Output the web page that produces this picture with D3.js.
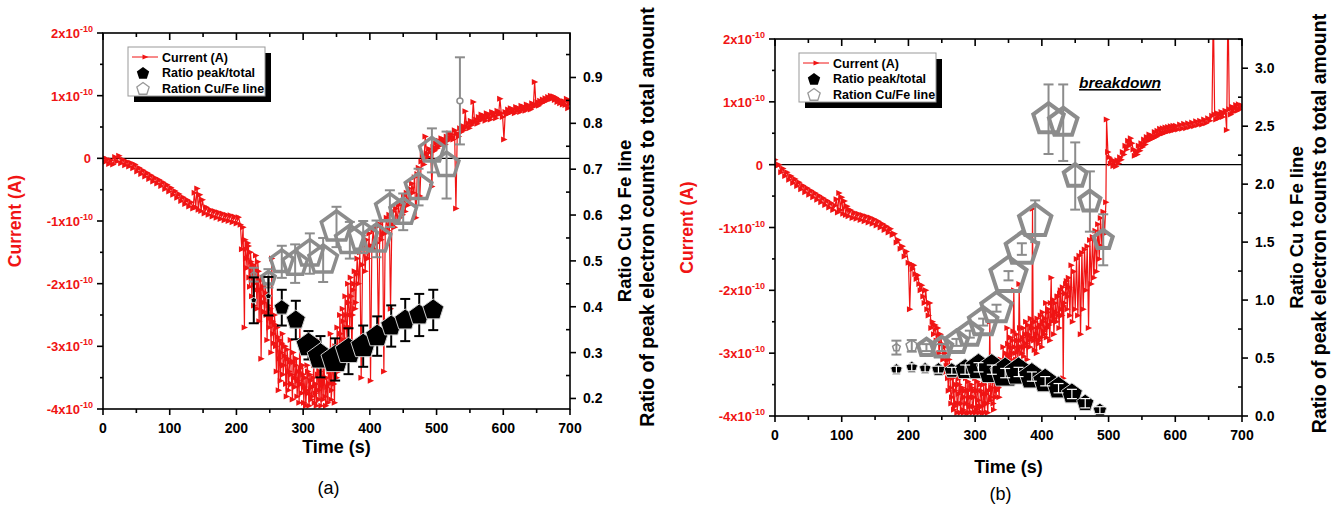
<!DOCTYPE html>
<html>
<head>
<meta charset="utf-8">
<script src="https://d3js.org/d3.v7.min.js"></script>
<style>
  body { margin: 0; background: #fff; }
  svg { display: block; }
  text { font-family: 'Liberation Sans', Arial, sans-serif; }
</style>
</head>
<body>
<svg id="chart" width="1343" height="511"></svg>
<script>
// ---- data (current in units of 1e-10 A, time in s) ----
const currentA = [
  [0,0.02],[3,-0.06],[6,-0.01],[9,-0.09],[12,-0.03],[15,-0.10],[18,0.02],[21,-0.05],[24,0.04],[27,-0.08],
  [30,-0.02],[33,-0.11],[36,-0.05],[39,-0.13],[42,-0.07],[45,-0.16],[48,-0.10],[51,-0.21],[54,-0.15],[57,-0.25],
  [60,-0.19],[63,-0.29],[66,-0.23],[69,-0.33],[72,-0.27],[75,-0.37],[78,-0.31],[81,-0.40],[84,-0.34],[87,-0.44],
  [90,-0.38],[93,-0.49],[96,-0.42],[99,-0.53],[102,-0.47],[105,-0.58],[108,-0.52],[111,-0.63],[114,-0.57],[117,-0.68],
  [120,-0.62],[123,-0.73],[126,-0.66],[129,-0.77],[132,-0.70],[135,-0.80],[137,-0.55],[139,-0.78],[141,-0.48],[143,-0.82],
  [145,-0.58],[147,-0.84],[149,-0.66],[152,-0.88],[155,-0.78],[158,-0.90],[161,-0.82],[164,-0.93],[167,-0.84],[170,-0.95],
  [173,-0.86],[176,-0.97],[179,-0.88],[182,-0.99],[185,-0.90],[188,-1.00],[191,-0.91],[194,-1.02],[197,-0.93],[200,-1.04],
  [203,-0.94],[206,-1.06],
  [208,-1.45],[210,-1.10],[212,-2.70],[213,-1.30],[215,-1.60],[217,-1.35],[219,-1.90],[221,-1.50],[223,-2.20],[225,-1.70],
  [227,-2.00],[229,-1.55],[231,-2.40],[233,-1.80],[235,-2.10],[237,-3.20],[239,-1.90],[241,-2.30],[243,-2.00],[245,-2.50],
  [247,-2.20],[249,-2.70],[251,-2.40],[253,-1.60],[255,-2.80],[257,-2.50],[259,-3.00],[261,-2.70],[263,-3.70],[265,-2.90],
  [267,-3.10],[269,-2.80],[271,-3.30],[273,-3.00],[275,-3.80],[277,-3.20],[279,-3.40],[281,-2.90],[283,-3.60],[285,-3.10],
  [287,-3.50],[289,-3.30],[291,-3.80],[293,-3.40],[295,-2.60],[297,-3.60],[299,-3.30],[301,-3.90],[303,-3.50],[305,-3.70],
  [307,-3.40],[309,-3.95],[311,-3.55],[313,-3.80],[315,-3.50],[317,-3.90],[319,-3.60],[321,-2.90],[323,-3.70],[325,-3.40],
  [327,-3.95],[329,-3.60],[331,-3.20],[333,-3.80],[335,-3.50],[337,-3.90],[339,-3.40],[341,-2.80],[343,-3.70],[345,-3.30],
  [347,-3.90],[349,-3.20],[351,-2.70],[353,-3.40],[355,-2.50],[357,-3.10],[359,-2.40],[361,-2.90],[363,-2.20],[365,-2.70],
  [367,-2.00],[369,-2.50],[371,-1.90],[373,-3.20],[375,-2.10],[377,-1.80],[379,-2.30],[381,-1.60],[383,-2.00],[385,-1.50],
  [387,-3.50],[389,-1.70],[391,-1.40],[393,-1.80],[395,-1.30],[397,-1.60],[399,-1.20],[401,-3.55],[403,-1.40],[405,-1.15],
  [407,-1.45],[409,-1.10],[411,-1.35],[413,-2.90],[415,-1.05],[417,-1.30],[419,-1.00],[421,-3.40],[423,-1.20],[425,-0.95],
  [427,-1.15],[429,-0.90],[431,-2.40],[433,-1.05],[435,-0.85],[437,-1.10],[439,-0.80],[441,-1.00],[443,-0.75],[445,-0.95],
  [447,-0.70],[449,-0.90],[451,-0.60],[453,-0.85],[455,-0.55],[457,-0.75],[459,-0.48],[461,-0.65],[463,-0.40],[465,-0.55],
  [467,-0.30],[469,-0.95],[471,-0.25],[473,-0.15],[475,-0.60],[477,-0.05],[479,0.05],[481,-0.10],[483,0.35],[485,0.08],
  [487,0.02],[489,0.15],[491,0.10],[493,-0.45],[495,0.18],[497,0.12],[499,0.24],[501,0.16],[503,0.28],[505,0.20],
  [507,0.32],[509,0.25],[511,0.30],[513,0.22],[515,0.35],[517,0.28],[519,0.40],[521,0.32],[523,0.38],[525,0.30],
  [527,0.45],[529,-0.80],[531,0.40],[533,0.35],[535,0.48],[537,0.42],[539,0.52],[541,0.45],[543,0.75],[545,0.50],
  [547,0.56],[549,0.48],[551,0.60],[553,0.53],[555,0.90],[557,0.58],[559,0.62],[561,0.55],[563,0.66],[565,0.60],
  [567,0.70],[569,0.63],[571,0.68],[573,0.60],[575,0.72],[577,0.65],[579,0.70],[581,0.62],[583,0.74],[585,0.68],
  [587,0.72],[589,0.64],[591,0.76],[593,0.70],[595,0.95],[597,0.72],[599,0.66],[601,0.30],[603,0.74],[605,0.70],
  [607,0.78],[609,0.72],[611,0.80],[613,0.74],[615,0.78],[617,0.72],[619,0.82],[621,0.76],[623,0.80],[625,0.74],
  [627,0.84],[629,0.78],[631,0.82],[633,0.76],[635,0.86],[637,0.80],[639,0.84],[641,0.78],[643,0.88],[645,0.82],
  [647,1.22],[649,0.85],[651,0.90],[653,0.84],[655,0.92],[657,0.88],[659,0.94],[661,0.90],[663,0.96],[665,0.92],
  [667,0.98],[669,0.94],[671,1.00],[673,0.95],[675,0.99],[677,0.93],[679,0.97],[681,0.90],[683,0.94],[685,0.88],
  [687,0.92],[689,0.86],[691,0.91],[693,0.85],[695,0.95],[697,0.80],[699,0.92],[700,0.88]
];
// extra readings in the dense noisy part of (a)
const currentAFine = [
  [214,-1.45],[216,-1.75],[218,-1.40],[220,-2.05],[222,-1.65],[224,-1.85],[226,-2.35],[228,-1.75],[230,-2.10],[232,-1.65],
  [234,-2.60],[236,-1.95],[238,-2.20],[240,-2.05],[242,-2.45],[244,-2.15],[246,-2.90],[248,-2.35],[250,-2.55],[252,-3.10],
  [254,-2.60],[256,-2.95],[258,-2.65],[260,-3.40],[262,-2.85],[264,-3.20],[266,-3.55],[268,-2.95],[270,-3.45],[272,-3.15],
  [274,-3.60],[276,-3.05],[278,-3.70],[280,-3.25],[282,-3.45],[284,-3.85],[286,-3.25],[288,-3.65],[290,-3.20],[292,-3.55],
  [294,-3.90],[296,-3.35],[298,-3.75],[300,-3.45],[302,-3.65],[304,-3.95],[306,-3.30],[308,-3.75],[310,-3.45],[312,-3.85],
  [314,-3.65],[316,-3.30],[318,-3.75],[320,-3.95],[322,-3.45],[324,-3.85],[326,-3.55],[328,-3.30],[330,-3.85],[332,-3.50],
  [334,-3.95],[336,-3.65],[338,-3.25],[340,-3.60],[342,-3.85],[344,-3.20],[346,-3.60],[348,-3.00],[350,-3.50],[352,-3.00],
  [354,-3.30],[356,-2.80],[358,-3.20],[360,-2.60],[362,-3.05],[364,-2.50],[366,-2.90],[368,-2.30],[370,-2.70],[372,-2.20],
  [374,-2.50],[376,-2.00],[378,-2.40],[380,-1.85]
];

const currentB = [
  [0,0.08],[3,-0.02],[6,0.00],[9,-0.12],[12,-0.06],[15,-0.18],[18,-0.12],[21,-0.24],[24,-0.18],[27,-0.29],
  [30,-0.23],[33,-0.34],[36,-0.28],[39,-0.39],[42,-0.33],[45,-0.44],[48,-0.37],[51,-0.48],[54,-0.41],[57,-0.52],
  [60,-0.45],[63,-0.56],[66,-0.49],[69,-0.60],[72,-0.53],[75,-0.64],[78,-0.57],[81,-0.68],[84,-0.61],[87,-0.72],
  [90,-0.65],[92,-0.55],[94,-0.76],[96,-0.45],[98,-0.72],[100,-0.52],[102,-0.78],[104,-0.58],[106,-0.80],[108,-0.66],
  [110,-0.82],[113,-0.72],[116,-0.85],[119,-0.76],[122,-0.86],[125,-0.78],[128,-0.88],[131,-0.80],[134,-0.90],[137,-0.82],
  [140,-0.92],[143,-0.84],[146,-0.94],[149,-0.87],[152,-0.97],[155,-0.90],[158,-1.00],[161,-0.94],[164,-1.04],[167,-0.98],
  [170,-1.08],[173,-1.02],[176,-1.12],[179,-1.10],[182,-1.24],[185,-1.20],[188,-1.34],[191,-1.30],[194,-1.46],[197,-1.38],
  [200,-1.56],[202,-2.30],[204,-1.58],[206,-1.66],[208,-1.60],[210,-1.74],[212,-1.82],[214,-1.76],[216,-1.90],[218,-2.00],
  [220,-1.92],[222,-2.10],[224,-2.20],[226,-2.00],[228,-2.30],[230,-2.40],[232,-2.20],[234,-2.60],[236,-2.50],[238,-2.70],
  [240,-2.55],[242,-2.80],[244,-2.60],[246,-3.00],[248,-2.70],[250,-2.85],[252,-3.10],[254,-2.90],[256,-3.30],[258,-3.10],
  [260,-3.60],[262,-3.20],[264,-3.80],[266,-3.40],[268,-3.90],[270,-3.60],[272,-3.30],[274,-3.80],[276,-3.50],[278,-3.95],
  [280,-3.60],[282,-3.90],[284,-3.70],[286,-3.40],[288,-3.95],[290,-3.60],[292,-3.85],[294,-3.50],[296,-3.95],[298,-3.70],
  [300,-3.40],[302,-3.90],[304,-3.60],[306,-3.95],[308,-3.50],[310,-3.85],[312,-3.65],[314,-3.95],[316,-3.40],[318,-3.80],
  [320,-3.60],[322,-2.50],[324,-3.70],[326,-3.40],[328,-3.90],[330,-3.30],[332,-3.60],[334,-3.20],[336,-3.70],[338,-3.10],
  [340,-3.40],[342,-2.90],[344,-3.30],[346,-3.00],[348,-2.60],[350,-3.20],[352,-2.90],[354,-3.10],[356,-2.80],[358,-2.00],
  [360,-3.00],[362,-2.70],[364,-3.10],[366,-1.90],[368,-2.80],[370,-3.00],[372,-2.60],[374,-2.90],[376,-2.50],[378,-3.10],
  [380,-2.70],[382,-2.90],[384,-2.60],[386,-0.70],[388,-2.80],[390,-2.50],[392,-3.00],[394,-2.60],[396,-2.80],[398,-2.40],
  [400,-2.90],[402,-2.50],[404,-2.70],[406,-2.20],[408,-2.60],[410,-2.30],[412,-2.80],[414,-1.80],[416,-2.40],[418,-2.70],
  [420,-2.20],[422,-2.50],[424,-2.10],[426,-2.60],[428,-2.00],[430,-2.40],[432,-3.40],[434,-2.20],[436,-1.90],[438,-2.30],
  [440,-1.80],[442,-2.40],[444,-1.60],[446,-2.50],[448,-1.70],[450,-2.30],[452,-1.50],[454,-2.40],[456,-1.45],[458,-2.70],
  [460,-1.40],[462,-2.30],[464,-1.35],[466,-2.00],[468,-1.30],[470,-2.60],[472,-1.20],[474,-1.90],[476,-1.15],[478,-1.80],
  [480,-1.05],[482,-1.70],[484,-0.95],[486,-1.50],[488,-0.85],[490,-1.30],[492,-0.75],[494,-1.10],[496,-0.60],[497,0.72],
  [499,0.20],[501,0.12],[503,0.02],[505,0.08],[507,-0.02],[509,0.05],[511,-0.03],[513,0.07],[515,0.02],[517,0.12],
  [519,0.08],[521,0.20],[523,0.16],[525,0.30],[527,0.24],[529,0.38],[531,0.30],[533,0.42],[535,0.34],[537,0.24],
  [539,0.14],[541,0.22],[543,0.16],[545,0.30],[547,0.22],[549,0.34],[551,0.28],[553,0.40],[555,0.32],[557,0.44],
  [559,0.38],[561,0.48],[563,0.40],[565,0.46],[567,0.42],[569,0.52],[571,0.44],[573,0.54],[575,0.47],[577,0.57],
  [579,0.49],[581,0.58],[583,0.50],[585,0.59],[587,0.52],[589,0.60],[591,0.53],[593,0.61],[595,0.54],[597,0.62],
  [599,0.55],[601,0.62],[604,0.56],[607,0.64],[610,0.57],[613,0.65],[616,0.58],[619,0.66],[622,0.60],[625,0.67],
  [628,0.61],[631,0.69],[634,0.63],[637,0.70],[640,0.64],[643,0.72],[646,0.66],[649,0.74],[652,0.70],[655,0.78],
  [657,2.50],[659,0.80],[661,0.72],[663,0.82],[665,0.74],[667,0.80],[669,0.84],[671,0.76],[673,0.82],[675,0.86],
  [677,0.55],[679,2.60],[681,0.88],[683,0.80],[685,0.92],[687,0.84],[689,0.90],[691,0.95],[693,0.86],[695,0.96],
  [697,0.88],[700,0.94]
];
// extra readings in the dense noisy part of (b)
const currentBFine = [
  [255,-3.00],[257,-3.20],[259,-3.40],[261,-3.10],[263,-3.55],[265,-3.70],[267,-3.30],[269,-3.85],[271,-3.50],[273,-3.95],
  [275,-3.65],[277,-3.40],[279,-3.80],[281,-3.55],[283,-3.95],[285,-3.60],[287,-3.80],[289,-3.45],[291,-3.95],[293,-3.70],
  [295,-3.55],[297,-3.85],[299,-3.60],[301,-3.95],[303,-3.45],[305,-3.75],[307,-3.85],[309,-3.60],[311,-3.95],[313,-3.50],
  [315,-3.80],[317,-3.65],[319,-3.95],[321,-3.40],[323,-3.75],[325,-3.55],[327,-3.80],[329,-3.45],[331,-3.70],[333,-3.40],
  [335,-3.55],[337,-3.25],[339,-3.50],[341,-3.15],[343,-3.40],[345,-3.10],[347,-3.35],[349,-2.85],[351,-3.05],[353,-2.75],
  [355,-3.00],[357,-2.65],[359,-2.90],[361,-3.10],[363,-2.80],[365,-2.95],[367,-2.60],[369,-2.90],[371,-2.75],[373,-3.05],
  [375,-2.70],[377,-2.85],[379,-2.55],[381,-2.80],[383,-2.45],[385,-2.75],[387,-2.60],[389,-2.95],[391,-2.70],[393,-2.45],
  [395,-2.85],[397,-2.55],[399,-2.75],[401,-2.35],[403,-2.65],[405,-2.45],[407,-2.75],[409,-2.35],[411,-2.55],[413,-2.20],
  [415,-2.50],[417,-2.15],[419,-2.45],[421,-2.35],[423,-2.10],[425,-2.40],[427,-2.05],[429,-2.30],[431,-1.95],[433,-2.25],
  [435,-2.05],[437,-1.85],[439,-2.10],[441,-1.95]
];

// ratio peak/total (black) and ratio Cu/Fe (gray): time, value, error, symbol size
const peakTimeA = [226, 248, 268, 289, 308, 326, 348, 368, 390, 411, 432, 453, 474, 495];
const peakRatioA = [0.414, 0.423, 0.398, 0.371, 0.316, 0.291, 0.285, 0.303, 0.314, 0.336, 0.358, 0.371, 0.382, 0.393];
const peakErrA = [0.050, 0.042, 0.039, 0.042, 0.031, 0.045, 0.046, 0.050, 0.045, 0.043, 0.045, 0.046, 0.046, 0.044];
const peakSizeA = [3, 3, 8, 10, 13, 14, 15, 14, 13, 12, 11, 11, 11, 11];

const cufeTimeA = [226, 248, 268, 288, 310, 330, 350, 370, 390, 410, 430, 450, 473, 493, 515, 535];
const cufeRatioA = [0.470, 0.462, 0.498, 0.494, 0.516, 0.502, 0.574, 0.545, 0.552, 0.548, 0.614, 0.607, 0.661, 0.741, 0.709, 0.849];
const cufeErrA = [0.015, 0.020, 0.035, 0.042, 0.044, 0.048, 0.044, 0.040, 0.035, 0.040, 0.040, 0.040, 0.040, 0.048, 0.073, 0.095];
const cufeSizeA = [3, 7, 12, 13, 14, 15, 16, 15, 15, 15, 15, 14, 14, 13, 13, 0];

const peakTimeB = [182, 205, 225, 245, 265, 285, 305, 325, 345, 365, 385, 405, 425, 445, 465, 487];
const peakRatioB = [0.40, 0.42, 0.41, 0.40, 0.39, 0.40, 0.42, 0.40, 0.37, 0.38, 0.34, 0.30, 0.24, 0.19, 0.11, 0.05];
const peakErrB = [0.03, 0.03, 0.03, 0.03, 0.03, 0.04, 0.04, 0.04, 0.04, 0.04, 0.04, 0.04, 0.04, 0.04, 0.04, 0.03];
const peakSizeB = [6, 6, 6, 7, 8, 11, 14, 16, 16, 15, 14, 13, 12, 11, 9, 7];

const cufeTimeB = [182, 205, 227, 250, 272, 292, 312, 332, 350, 370, 390, 410, 432, 450, 472, 492];
const cufeRatioB = [0.59, 0.605, 0.59, 0.59, 0.635, 0.706, 0.81, 0.93, 1.21, 1.44, 1.68, 2.56, 2.53, 2.07, 1.85, 1.52];
const cufeErrB = [0.06, 0.05, 0.03, 0.03, 0.03, 0.03, 0.03, 0.03, 0.04, 0.05, 0.18, 0.30, 0.33, 0.29, 0.26, 0.22];
const cufeSizeB = [4, 6, 9, 11, 12, 13, 15, 16, 19, 17, 17, 16, 15, 12, 11, 10];

const timeTicks = [0, 100, 200, 300, 400, 500, 600, 700];
const currentTicks = [-4, -3, -2, -1, 0, 1, 2];
const ratioTicksA = [0.2, 0.3, 0.4, 0.5, 0.6, 0.7, 0.8, 0.9];
const ratioTicksB = [0.0, 0.5, 1.0, 1.5, 2.0, 2.5, 3.0];
const legendLabels = ["Current (A)", "Ratio peak/total", "Ration Cu/Fe line"];

// ---- drawing ----
const svg = d3.select("#chart");
svg.append("rect").attr("width", 1343).attr("height", 511).attr("fill", "#fff");

const RED = "#f01414";
const GRAY = "#8c8c8c";

function pentagon(r) {
  const pts = d3.range(5).map(k => {
    const a = -Math.PI / 2 + k * 2 * Math.PI / 5;
    return [r * Math.cos(a), r * Math.sin(a)];
  });
  return "M" + pts.map(p => p[0].toFixed(2) + "," + p[1].toFixed(2)).join("L") + "Z";
}

function zip(t, v, e, s) {
  return t.map((d, i) => ({ t: d, v: v[i], e: e[i], s: s[i] }));
}

function drawPanel(p) {
  const g = svg.append("g");
  const x = d3.scaleLinear().domain([0, 700]).range([p.left, p.right]);
  const yL = d3.scaleLinear().domain([-4, 2]).range([p.bottom, p.top]);
  const yR = d3.scaleLinear().domain(p.rDomain).range([p.bottom, p.top]);

  const clipId = "clip" + p.id;
  svg.append("clipPath").attr("id", clipId).append("rect")
    .attr("x", p.left).attr("y", p.top)
    .attr("width", p.right - p.left).attr("height", p.bottom - p.top);

  // zero line
  g.append("line").attr("x1", p.left).attr("x2", p.right)
    .attr("y1", yL(0)).attr("y2", yL(0)).attr("stroke", "#000").attr("stroke-width", 1.2);

  // current (merge the two reading lists in time order)
  const cur = p.current.concat(p.currentFine).sort((a, b) => a[0] - b[0]);
  const cg = g.append("g").attr("clip-path", `url(#${clipId})`);
  cg.append("path").datum(cur)
    .attr("d", d3.line().x(d => x(d[0])).y(d => yL(d[1])))
    .attr("fill", "none").attr("stroke", RED).attr("stroke-width", 1.2);
  cg.selectAll("path.tri").data(cur).join("path").attr("class", "tri")
    .attr("d", "M-2.8,-3L3.6,0L-2.8,3Z")
    .attr("transform", d => `translate(${x(d[0])},${yL(d[1])})`)
    .attr("fill", RED);

  // gray Cu/Fe ratio
  const gr = zip(p.cufe.t, p.cufe.v, p.cufe.e, p.cufe.s);
  const eg = g.append("g").attr("stroke", GRAY).attr("stroke-width", 2);
  gr.forEach(d => {
    const cx = x(d.t);
    eg.append("line").attr("x1", cx).attr("x2", cx).attr("y1", yR(d.v - d.e)).attr("y2", yR(d.v + d.e));
    [d.v - d.e, d.v + d.e].forEach(v => eg.append("line")
      .attr("x1", cx - 5).attr("x2", cx + 5).attr("y1", yR(v)).attr("y2", yR(v)));
  });
  g.selectAll("path.cufe" + p.id).data(gr).join("path")
    .attr("d", d => d.s > 0 ? pentagon(d.s) : d3.symbol(d3.symbolCircle, 28)())
    .attr("transform", d => `translate(${x(d.t)},${yR(d.v)})`)
    .attr("fill", d => d.s > 0 ? "none" : "#fff")
    .attr("stroke", GRAY)
    .attr("stroke-width", d => d.s > 6 ? p.grayStroke : 1.5)
    .attr("stroke-linejoin", "miter");

  // black peak/total ratio
  const bk = zip(p.peak.t, p.peak.v, p.peak.e, p.peak.s);
  const drawBars = (color, w) => {
    const bg = g.append("g").attr("stroke", color).attr("stroke-width", w);
    bk.forEach(d => {
      const cx = x(d.t);
      bg.append("line").attr("x1", cx).attr("x2", cx).attr("y1", yR(d.v - d.e)).attr("y2", yR(d.v + d.e));
      [d.v - d.e, d.v + d.e].forEach(v => bg.append("line")
        .attr("x1", cx - 5).attr("x2", cx + 5).attr("y1", yR(v)).attr("y2", yR(v)));
    });
  };
  if (!p.whiteBars) drawBars("#000", 2);
  g.selectAll("path.peak" + p.id).data(bk).join("path")
    .attr("d", d => pentagon(d.s))
    .attr("transform", d => `translate(${x(d.t)},${yR(d.v)})`)
    .attr("fill", "#000").attr("stroke", "#cfcfcf").attr("stroke-width", 1);
  if (p.whiteBars) drawBars("#fff", 1.2);

  // axes frame
  const ax = g.append("g").attr("stroke", "#000").attr("stroke-width", 1.6).attr("fill", "none");
  ax.append("rect").attr("x", p.left).attr("y", p.top)
    .attr("width", p.right - p.left).attr("height", p.bottom - p.top);

  // bottom and top ticks
  d3.range(0, 701, 50).forEach(t => {
    const major = t % 100 === 0;
    ax.append("line").attr("x1", x(t)).attr("x2", x(t))
      .attr("y1", p.bottom).attr("y2", p.bottom + (major ? 6 : 4));
    ax.append("line").attr("x1", x(t)).attr("x2", x(t))
      .attr("y1", p.top).attr("y2", p.top + (major ? 7 : 4));
  });
  g.selectAll("text.xt" + p.id).data(timeTicks).join("text")
    .attr("x", d => x(d)).attr("y", p.bottom + 24)
    .attr("text-anchor", "middle").attr("font-size", 14).attr("font-weight", "bold")
    .text(d => d);

  // left ticks
  d3.range(-4, 2.01, 0.5).forEach(v => {
    const major = Math.abs(v % 1) < 1e-9;
    ax.append("line").attr("x1", p.left).attr("x2", p.left - (major ? 6 : 3))
      .attr("y1", yL(v)).attr("y2", yL(v));
  });
  currentTicks.forEach(v => {
    const t = g.append("text").attr("fill", RED).attr("font-weight", "bold")
      .attr("font-size", 13).attr("text-anchor", "end")
      .attr("y", yL(v) + 5);
    if (v === 0) {
      t.attr("x", p.left - 12).text("0");
    } else {
      t.attr("x", p.left - 10);
      t.append("tspan").text(v + "x10");
      t.append("tspan").attr("font-size", 9).attr("dy", -6).text("-10");
    }
  });

  // right ticks
  d3.range(p.rMinor[0], p.rMinor[1] + 1e-9, p.rMinor[2]).forEach(v => {
    if (v < p.rDomain[0] - 1e-9 || v > p.rDomain[1]) return;
    const major = p.rTicks.some(m => Math.abs(m - v) < 1e-6);
    if (major) {
      ax.append("line").attr("x1", p.right).attr("x2", p.right + 6).attr("y1", yR(v)).attr("y2", yR(v));
    } else {
      ax.append("line").attr("x1", p.right).attr("x2", p.right - 4).attr("y1", yR(v)).attr("y2", yR(v));
    }
  });
  g.selectAll("text.rt" + p.id).data(p.rTicks).join("text")
    .attr("x", p.right + 13).attr("y", d => yR(d) + 5)
    .attr("font-size", 14).attr("font-weight", "bold")
    .text(d => d.toFixed(1));

  // axis titles
  const midY = (p.top + p.bottom) / 2;
  g.append("text").attr("transform", `translate(${p.leftTitleX},${midY}) rotate(-90)`)
    .attr("text-anchor", "middle").attr("fill", RED).attr("font-weight", "bold").attr("font-size", 17.5)
    .text("Current (A)");
  g.append("text").attr("transform", `translate(${p.right + 61},${midY}) rotate(-90)`)
    .attr("text-anchor", "middle").attr("font-weight", "bold").attr("font-size", 18.5)
    .text("Ratio Cu to Fe line");
  g.append("text").attr("transform", `translate(${p.right + 84},${midY - 4}) rotate(-90)`)
    .attr("text-anchor", "middle").attr("font-weight", "bold").attr("font-size", 19.5)
    .text("Ratio of peak electron counts to total amount");
  g.append("text").attr("x", (p.left + p.right) / 2).attr("y", p.timeY)
    .attr("text-anchor", "middle").attr("font-weight", "bold").attr("font-size", 18)
    .text("Time (s)");
  g.append("text").attr("x", (p.left + p.right) / 2 - 8).attr("y", p.captionY)
    .attr("text-anchor", "middle").attr("font-size", 18)
    .text(p.caption);

  // legend
  const lx = p.legend[0], ly = p.legend[1], lw = 137, lh = 49;
  const lg = g.append("g");
  lg.append("rect").attr("x", lx + 6).attr("y", ly + 6).attr("width", lw).attr("height", lh).attr("fill", "#000");
  lg.append("rect").attr("x", lx).attr("y", ly).attr("width", lw).attr("height", lh)
    .attr("fill", "#fff").attr("stroke", "#999").attr("stroke-width", 1);
  legendLabels.forEach((lab, i) => {
    const yy = ly + 10 + i * 15.7;
    lg.append("text").attr("x", lx + 34).attr("y", yy + 4.5)
      .attr("font-size", 12.5).attr("font-weight", "bold").text(lab);
  });
  lg.append("line").attr("x1", lx + 4).attr("x2", lx + 30).attr("y1", ly + 10).attr("y2", ly + 10)
    .attr("stroke", RED).attr("stroke-width", 1);
  lg.append("path").attr("d", "M-2.5,-2.5L3.5,0L-2.5,2.5Z")
    .attr("transform", `translate(${lx + 17},${ly + 10})`).attr("fill", RED);
  lg.append("path").attr("d", pentagon(6.5))
    .attr("transform", `translate(${lx + 15},${ly + 26.5})`).attr("fill", "#000");
  lg.append("path").attr("d", pentagon(6.5))
    .attr("transform", `translate(${lx + 15},${ly + 42})`).attr("fill", "none")
    .attr("stroke", "#999").attr("stroke-width", 1.3);

  return { x, yL, yR, g };
}

drawPanel({
  id: "a", left: 103, right: 570, top: 33, bottom: 409,
  rDomain: [0.177, 0.997], rTicks: ratioTicksA, rMinor: [0.15, 1.0, 0.05],
  current: currentA, currentFine: currentAFine,
  peak: { t: peakTimeA, v: peakRatioA, e: peakErrA, s: peakSizeA },
  cufe: { t: cufeTimeA, v: cufeRatioA, e: cufeErrA, s: cufeSizeA },
  grayStroke: 3.5, whiteBars: false,
  leftTitleX: 21, legend: [128, 47], caption: "(a)", timeY: 453, captionY: 494
});

const pb = drawPanel({
  id: "b", left: 775, right: 1242, top: 39, bottom: 416,
  rDomain: [0, 3.252], rTicks: ratioTicksB, rMinor: [0, 3.25, 0.25],
  current: currentB, currentFine: currentBFine,
  peak: { t: peakTimeB, v: peakRatioB, e: peakErrB, s: peakSizeB },
  cufe: { t: cufeTimeB, v: cufeRatioB, e: cufeErrB, s: cufeSizeB },
  grayStroke: 4, whiteBars: true,
  leftTitleX: 693, legend: [799, 53], caption: "(b)", timeY: 473, captionY: 500
});

pb.g.append("text").attr("x", 1120).attr("y", 88)
  .attr("text-anchor", "middle").attr("font-size", 15.5)
  .attr("font-weight", "bold").attr("font-style", "italic")
  .attr("text-decoration", "underline")
  .text("breakdown");
</script>
</body>
</html>
